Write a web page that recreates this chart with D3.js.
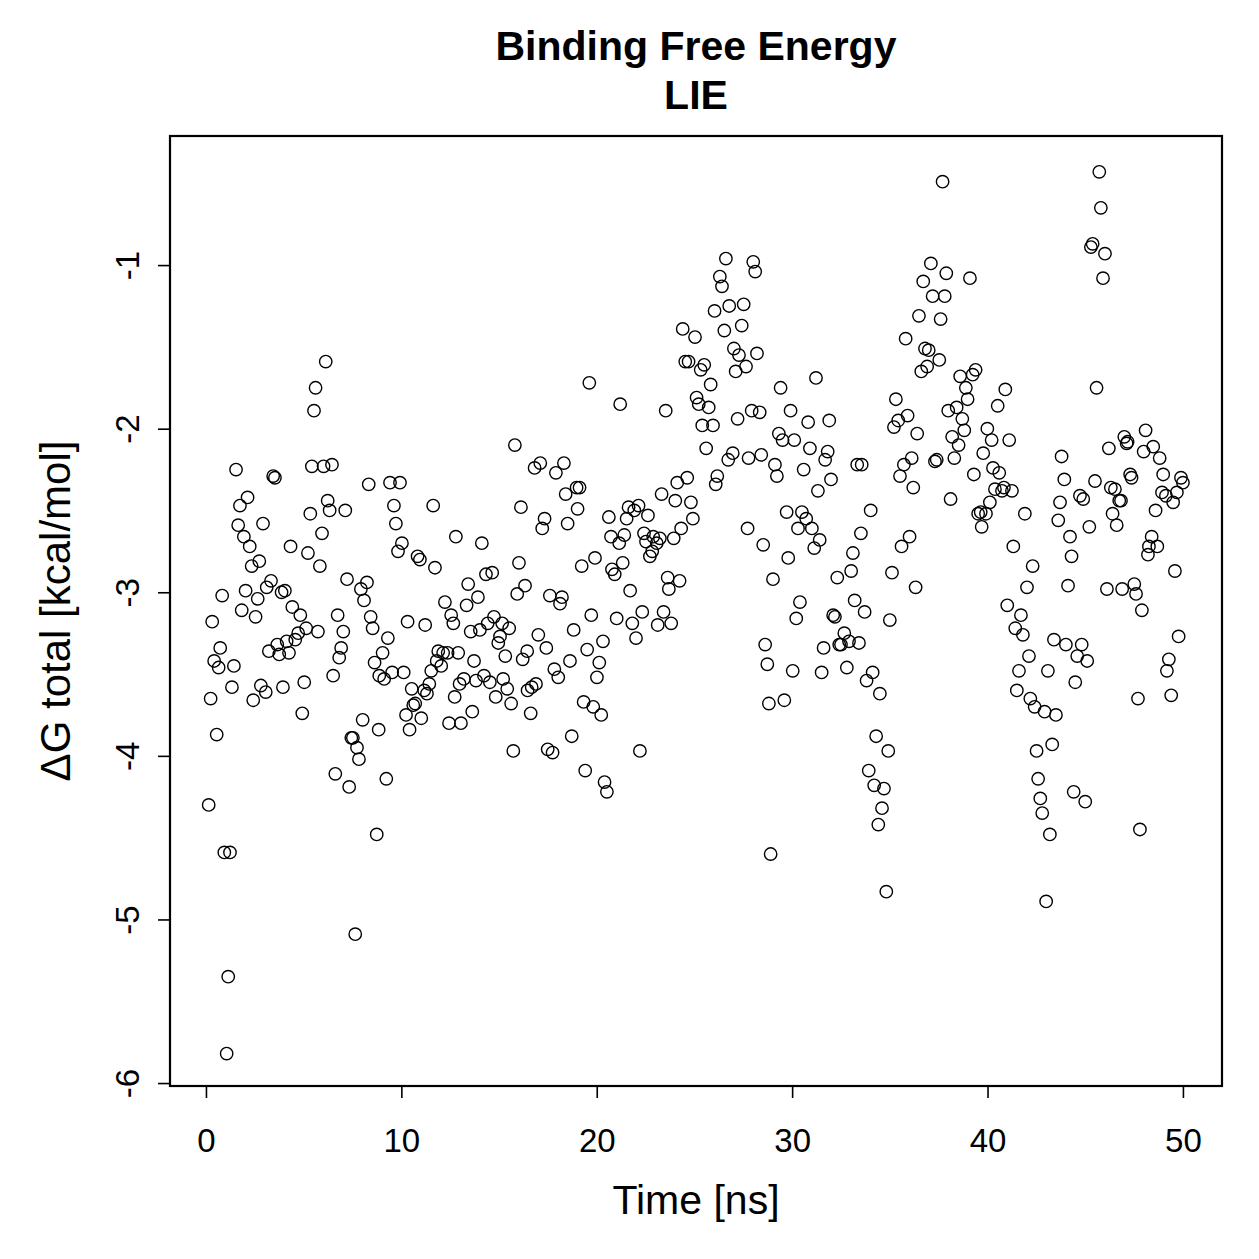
<!DOCTYPE html>
<html>
<head>
<meta charset="utf-8">
<script src="https://cdn.jsdelivr.net/npm/d3@7"></script>
<style>
  html, body { margin: 0; padding: 0; background: #fff; }
  svg text { font-family: "Liberation Sans", Arial, Helvetica, sans-serif; fill: #000; }
</style>
</head>
<body>
<div id="chart"></div>
<script>
// LIE binding free energy along the trajectory
// (time in ns, dG in kcal/mol), grouped by region of the plot

const timeEarly = [
  6.13, 5.61, 5.53, 1.54, 3.44, 3.53, 5.42, 6.02, 6.45, 8.33,
  9.42, 9.93, 2.13, 1.74, 6.23, 6.33, 7.13, 5.34, 9.62, 11.63,
  1.65, 2.92, 9.72, 1.94, 5.94, 12.79, 2.24, 4.33, 5.22, 10.03,
  9.83, 10.83, 10.95, 11.72, 2.73, 2.34, 5.83, 3.33, 3.11, 2.03,
  3.87, 4.04, 7.22, 8.24, 7.93, 0.83, 2.65, 8.09, 12.23, 1.83,
  2.54, 4.42, 4.83, 0.32, 6.74, 7.03, 8.43, 8.53, 9.31, 10.32,
  11.22, 12.55, 12.66, 5.73, 5.13, 4.72, 4.57, 4.13, 3.65, 3.22,
  3.75, 4.25, 0.73, 0.42, 0.65, 1.43, 6.92, 6.82, 6.51, 9.04,
  8.63, 8.87, 9.12, 9.53, 10.12, 11.89, 12.14, 12.37, 12.91, 11.81,
  12.04, 11.53, 11.43, 10.53, 11.17, 11.31, 10.71, 10.61, 10.24, 11.02,
  10.42, 12.44, 13.05, 12.73, 12.98, 1.33, 0.24, 2.81, 3.06, 2.42,
  3.94, 5.03, 4.93, 0.55, 8.02, 8.84, 7.44, 7.52, 7.73, 7.83,
  6.62, 7.33, 9.23, 0.14, 8.74, 0.94, 1.23, 7.64, 1.14, 1.06
];
const dgEarly = [
  -1.59, -1.75, -1.89, -2.25, -2.29, -2.30, -2.23, -2.23, -2.22, -2.34,
  -2.33, -2.33, -2.42, -2.47, -2.44, -2.50, -2.50, -2.52, -2.47, -2.47,
  -2.59, -2.58, -2.58, -2.66, -2.64, -2.66, -2.72, -2.72, -2.76, -2.70,
  -2.75, -2.78, -2.80, -2.85, -2.81, -2.84, -2.84, -2.93, -2.97, -2.99,
  -3.00, -2.99, -2.92, -2.94, -2.98, -3.02, -3.04, -3.05, -3.06, -3.11,
  -3.15, -3.09, -3.14, -3.18, -3.14, -3.24, -3.15, -3.22, -3.28, -3.18,
  -3.20, -3.14, -3.19, -3.24, -3.22, -3.25, -3.29, -3.30, -3.32, -3.36,
  -3.38, -3.37, -3.34, -3.42, -3.46, -3.45, -3.34, -3.40, -3.51, -3.37,
  -3.43, -3.51, -3.53, -3.49, -3.49, -3.36, -3.37, -3.37, -3.37, -3.42,
  -3.45, -3.48, -3.56, -3.59, -3.60, -3.62, -3.68, -3.69, -3.75, -3.77,
  -3.84, -3.80, -3.80, -3.64, -3.56, -3.58, -3.65, -3.57, -3.61, -3.66,
  -3.58, -3.55, -3.74, -3.87, -3.78, -3.84, -3.89, -3.89, -3.95, -4.02,
  -4.11, -4.19, -4.14, -4.30, -4.48, -4.59, -4.59, -5.09, -5.35, -5.82
];

const timeMid = [
  24.53, 24.70, 25.50, 25.32, 25.83, 25.11, 25.22, 25.73, 25.40, 25.95,
  25.60, 19.62, 21.20, 23.53, 15.81, 17.11, 16.82, 18.32, 17.91, 18.97,
  19.12, 18.41, 16.12, 19.02, 17.33, 17.21, 18.51, 26.17, 26.09, 24.63,
  24.12, 23.32, 24.02, 24.82, 24.92, 24.32, 23.94, 21.63, 22.14, 21.92,
  22.62, 20.62, 21.53, 20.73, 21.41, 21.15, 22.42, 22.52, 22.89, 23.23,
  23.07, 22.84, 22.72, 14.12, 16.02, 19.91, 19.23, 20.78, 20.92, 21.33,
  23.63, 24.24, 23.69, 14.33, 14.65, 13.42, 16.33, 15.93, 13.92, 17.60,
  18.22, 21.71, 13.34, 18.12, 13.55, 14.02, 14.42, 14.74, 15.16, 15.52,
  15.05, 14.96, 15.32, 13.72, 17.01, 16.44, 16.21, 17.42, 18.82, 19.72,
  21.02, 21.82, 22.33, 23.42, 23.12, 23.81, 22.01, 20.32, 19.51, 18.63,
  20.13, 20.01, 17.83, 18.03, 13.20, 13.82, 14.23, 14.53, 15.21, 15.42,
  16.89, 16.67, 16.46, 14.83, 15.62, 13.63, 16.62, 19.33, 19.82, 20.23,
  18.72, 15.73, 17.49, 17.74, 22.21, 19.41, 20.40, 20.52
];
const dgMid = [
  -1.59, -1.59, -1.61, -1.64, -1.73, -1.81, -1.85, -1.87, -1.98, -1.98,
  -2.12, -1.72, -1.85, -1.89, -2.10, -2.21, -2.24, -2.21, -2.27, -2.36,
  -2.36, -2.40, -2.48, -2.49, -2.55, -2.61, -2.58, -2.29, -2.34, -2.30,
  -2.33, -2.40, -2.44, -2.45, -2.55, -2.61, -2.67, -2.48, -2.47, -2.50,
  -2.53, -2.54, -2.55, -2.66, -2.65, -2.70, -2.64, -2.69, -2.66, -2.67,
  -2.70, -2.75, -2.78, -2.70, -2.82, -2.79, -2.84, -2.86, -2.89, -2.82,
  -2.91, -2.93, -2.98, -2.89, -2.88, -2.95, -2.96, -3.01, -3.03, -3.02,
  -3.03, -2.99, -3.08, -3.07, -3.24, -3.23, -3.19, -3.15, -3.19, -3.22,
  -3.27, -3.31, -3.39, -3.42, -3.26, -3.36, -3.41, -3.34, -3.23, -3.14,
  -3.16, -3.19, -3.12, -3.12, -3.20, -3.19, -3.28, -3.30, -3.35, -3.42,
  -3.43, -3.52, -3.47, -3.52, -3.53, -3.54, -3.51, -3.55, -3.53, -3.59,
  -3.56, -3.58, -3.60, -3.64, -3.68, -3.73, -3.74, -3.67, -3.70, -3.75,
  -3.88, -3.97, -3.96, -3.98, -3.97, -4.09, -4.16, -4.22
];

const timeLate = [
  26.61, 28.01, 28.11, 26.30, 26.41, 26.03, 26.78, 27.52, 24.40, 25.03,
  26.53, 27.42, 27.02, 27.28, 28.20, 27.64, 27.11, 27.21, 27.93, 28.34,
  29.41, 31.22, 29.92, 30.82, 31.90, 29.32, 29.51, 30.11, 30.91, 31.82,
  31.69, 26.96, 26.73, 27.77, 28.42, 29.12, 29.22, 30.59, 31.99, 31.32,
  38.11, 29.72, 30.50, 30.72, 31.01, 30.30, 27.72, 28.52, 31.41, 31.13,
  34.02, 33.52, 33.11, 36.01, 35.60, 29.80, 29.02, 32.31, 33.02, 35.11,
  36.32, 30.40, 30.21, 33.20, 32.10, 32.19, 33.71, 35.00, 32.67, 32.91,
  33.42, 32.41, 32.50, 31.61, 28.62, 28.73, 30.03, 31.51, 32.80, 34.12,
  33.81, 34.49, 28.81, 29.60, 34.30, 34.92, 33.92, 34.20, 34.70, 34.60,
  34.41, 28.90, 34.82
];
const dgLate = [
  -0.96, -0.98, -1.04, -1.07, -1.13, -1.28, -1.25, -1.24, -1.39, -1.44,
  -1.40, -1.37, -1.51, -1.55, -1.54, -1.62, -1.65, -1.94, -1.89, -1.90,
  -1.75, -1.69, -1.89, -1.96, -1.95, -2.03, -2.07, -2.07, -2.12, -2.14,
  -2.19, -2.15, -2.19, -2.18, -2.16, -2.22, -2.29, -2.25, -2.31, -2.38,
  -2.43, -2.51, -2.51, -2.55, -2.61, -2.61, -2.61, -2.71, -2.68, -2.73,
  -2.50, -2.64, -2.76, -2.66, -2.72, -2.79, -2.92, -2.91, -2.87, -2.88,
  -2.97, -3.06, -3.16, -3.05, -3.14, -3.15, -3.12, -3.17, -3.25, -3.30,
  -3.31, -3.32, -3.32, -3.34, -3.32, -3.44, -3.48, -3.49, -3.46, -3.49,
  -3.54, -3.62, -3.68, -3.66, -3.88, -3.97, -4.09, -4.18, -4.20, -4.32,
  -4.42, -4.60, -4.83
];

const timeEnd = [
  37.70, 37.10, 37.89, 36.71, 39.10, 37.19, 37.81, 36.49, 37.60, 35.81,
  36.80, 36.99, 37.53, 36.91, 36.61, 38.60, 39.24, 39.39, 38.89, 38.98,
  40.91, 40.52, 35.31, 37.99, 38.42, 38.71, 35.91, 35.43, 35.21, 36.40,
  38.19, 38.81, 38.52, 39.99, 40.21, 41.11, 39.78, 38.30, 36.12, 35.72,
  35.52, 37.31, 37.40, 33.33, 33.56, 39.30, 40.28, 40.60, 36.20, 40.38,
  40.74, 40.84, 41.25, 40.12, 39.52, 39.65, 39.92, 39.70, 41.91, 43.71,
  44.73, 44.90, 43.93, 45.50, 46.31, 46.52, 46.74, 46.83, 46.40, 46.61,
  43.62, 45.21, 44.22, 44.30, 48.93, 49.13, 49.69, 49.50, 50.00, 48.60,
  48.40, 48.26, 48.69, 48.21, 49.59, 41.32, 42.31, 42.02, 44.12, 46.11,
  46.89, 47.51, 47.60, 47.90, 41.01, 41.71, 41.42, 41.81, 43.40, 44.01,
  44.82, 44.59, 45.10, 42.12, 41.61, 43.09, 44.49, 41.50, 42.19, 42.41,
  42.92, 43.50, 47.70, 49.78, 49.28, 49.18, 49.40, 43.31, 42.51, 45.72,
  45.80, 45.38, 45.29, 46.01, 45.91, 45.58, 43.79, 47.00, 47.12, 47.17,
  46.21, 48.09, 47.99, 48.48, 48.81, 48.99, 47.30, 47.37, 49.90, 42.59,
  42.70, 42.80, 44.41, 45.00, 43.19, 47.80, 43.00
];
const dgEnd = [
  -0.49, -0.99, -1.05, -1.10, -1.08, -1.19, -1.19, -1.31, -1.33, -1.45,
  -1.51, -1.52, -1.58, -1.62, -1.65, -1.68, -1.67, -1.64, -1.75, -1.82,
  -1.76, -1.86, -1.82, -1.89, -1.87, -1.94, -1.92, -1.95, -1.99, -2.03,
  -2.05, -2.01, -2.10, -2.00, -2.07, -2.07, -2.15, -2.18, -2.18, -2.22,
  -2.29, -2.20, -2.19, -2.22, -2.22, -2.28, -2.24, -2.27, -2.36, -2.37,
  -2.38, -2.36, -2.38, -2.45, -2.52, -2.51, -2.52, -2.60, -2.52, -2.45,
  -2.41, -2.43, -2.31, -2.32, -2.36, -2.37, -2.44, -2.44, -2.52, -2.59,
  -2.56, -2.60, -2.66, -2.78, -2.39, -2.41, -2.39, -2.45, -2.33, -2.50,
  -2.66, -2.72, -2.72, -2.77, -2.87, -2.72, -2.84, -2.97, -2.96, -2.98,
  -2.98, -2.95, -3.01, -3.11, -3.08, -3.14, -3.22, -3.26, -3.29, -3.32,
  -3.32, -3.39, -3.42, -3.39, -3.48, -3.48, -3.55, -3.60, -3.65, -3.70,
  -3.73, -3.75, -3.65, -3.27, -3.41, -3.48, -3.63, -3.93, -3.97, -0.43,
  -0.65, -0.87, -0.89, -0.93, -1.08, -1.75, -2.17, -2.05, -2.09, -2.08,
  -2.12, -2.01, -2.14, -2.11, -2.18, -2.28, -2.28, -2.30, -2.30, -4.14,
  -4.26, -4.35, -4.22, -4.28, -4.48, -4.45, -4.89
];

const xTicks = [0, 10, 20, 30, 40, 50];
const yTicks = [-1, -2, -3, -4, -5, -6];
const xLimits = [-1.84, 52.0];      // R's usr range incl. 4% padding
const yLimits = [-6.018, -0.211];

// ---- layout ----
const W = 1259, H = 1259;
const plot = { left: 170, right: 1222, top: 136, bottom: 1086 };

const points = [];
[[timeEarly, dgEarly], [timeMid, dgMid], [timeLate, dgLate], [timeEnd, dgEnd]]
  .forEach(([ts, vs]) => ts.forEach((t, i) => points.push({ t, v: vs[i] })));

const svg = d3.select("#chart").append("svg")
  .attr("width", W)
  .attr("height", H);

svg.append("rect")
  .attr("width", W).attr("height", H)
  .attr("fill", "#fff");

const x = d3.scaleLinear().domain(xLimits).range([plot.left, plot.right]);
const y = d3.scaleLinear().domain(yLimits).range([plot.bottom, plot.top]);

// x axis
const xAxis = svg.append("g")
  .attr("transform", `translate(0,${plot.bottom})`)
  .call(d3.axisBottom(x).tickValues(xTicks).tickSize(12).tickFormat(d => String(d)));
xAxis.select(".domain").remove();
xAxis.selectAll(".tick line").attr("stroke", "#000").attr("stroke-width", 1.6);
xAxis.selectAll(".tick text")
  .attr("y", 66).attr("dy", null)
  .attr("font-size", 33)
  .attr("font-family", "Liberation Sans, Arial, sans-serif");

// y axis, labels rotated like R's default las=0
const yAxis = svg.append("g")
  .attr("transform", `translate(${plot.left},0)`)
  .call(d3.axisLeft(y).tickValues(yTicks).tickSize(12).tickFormat(d => String(d)));
yAxis.select(".domain").remove();
yAxis.selectAll(".tick line").attr("stroke", "#000").attr("stroke-width", 1.6);
yAxis.selectAll(".tick text")
  .attr("x", null).attr("dy", null)
  .attr("transform", "translate(-31,0) rotate(-90)")
  .attr("text-anchor", "middle")
  .attr("font-size", 33)
  .attr("font-family", "Liberation Sans, Arial, sans-serif");

// points (pch = 1)
svg.append("g")
  .selectAll("circle")
  .data(points)
  .join("circle")
  .attr("cx", d => x(d.t))
  .attr("cy", d => y(d.v))
  .attr("r", 6.2)
  .attr("fill", "none")
  .attr("stroke", "#000")
  .attr("stroke-width", 1.4);

// box
svg.append("rect")
  .attr("x", plot.left).attr("y", plot.top)
  .attr("width", plot.right - plot.left)
  .attr("height", plot.bottom - plot.top)
  .attr("fill", "none")
  .attr("stroke", "#000")
  .attr("stroke-width", 2.2);

// titles
const cx = (plot.left + plot.right) / 2;
svg.append("text")
  .attr("x", cx).attr("y", 60)
  .attr("text-anchor", "middle")
  .attr("font-size", 41).attr("font-weight", "bold")
  .text("Binding Free Energy");
svg.append("text")
  .attr("x", cx).attr("y", 109)
  .attr("text-anchor", "middle")
  .attr("font-size", 41).attr("font-weight", "bold")
  .text("LIE");

svg.append("text")
  .attr("x", cx).attr("y", 1214)
  .attr("text-anchor", "middle")
  .attr("font-size", 41)
  .text("Time [ns]");

svg.append("text")
  .attr("transform", `translate(70,${(plot.top + plot.bottom) / 2}) rotate(-90)`)
  .attr("text-anchor", "middle")
  .attr("font-size", 42)
  .text("ΔG total [kcal/mol]");
</script>
</body>
</html>
